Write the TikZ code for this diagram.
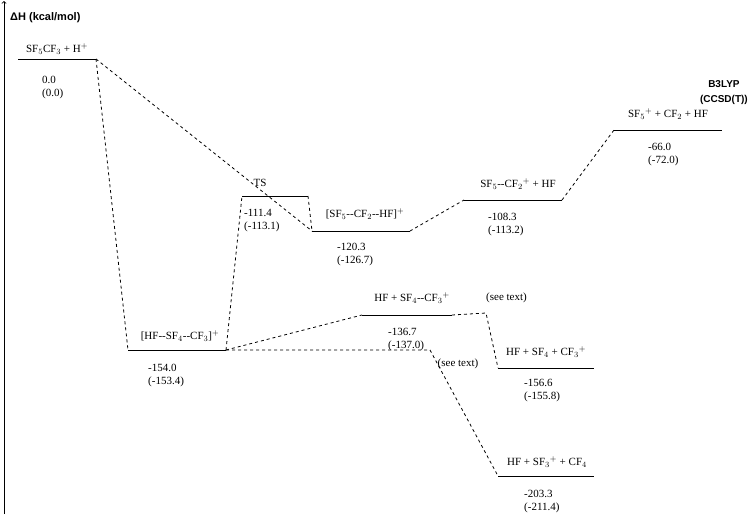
\documentclass[tikz,border=0pt]{standalone}
\usepackage{fontspec}
\setmainfont{Liberation Serif}
\setsansfont{Liberation Sans}
\begin{document}
\begin{tikzpicture}[x=1pt,y=-1pt,font=\fontsize{11}{13}\selectfont,
    level/.style={thick},
    link/.style={dashed,thick},
    lbl/.style={inner sep=0pt},
    val/.style={inner sep=0pt,anchor=west,align=left}]
    \useasboundingbox (0,0) rectangle (754,514);
    % axis
    \draw [->, thick] (4,514) -- (4,1);
    \node [lbl,anchor=west,font=\sffamily\bfseries\fontsize{11}{13}\selectfont] (ax) at (10,18) {ΔH (kcal/mol)};
    \node [lbl,anchor=east,align=center,font=\sffamily\bfseries\fontsize{10}{15}\selectfont] (meth) at (748,93) {B3LYP\\(CCSD(T))};

    % levels
    \foreach \n/\xa/\xb/\y in {r/18/96/59, ts/242/308/196, c1/312/410/231, c2/464/562/200,
        p1/614/722/130, i1/128/226/350, c3/362/452/315, p2/498/594/368, p3/498/594/476} {
        \coordinate (\n a) at (\xa,\y);
        \coordinate (\n b) at (\xb,\y);
        \draw [level] (\n a) -- (\n b);
    }

    % labels
    \node [lbl] (lr) at (57,49) {SF$_5$CF$_3$ + H$^+$};
    \node [val] (vr) at (42,88) {0.0\\(0.0)};
    \node [lbl] (lts) at (260,183) {TS};
    \node [val] (vts) at (244,221) {-111.4\\(-113.1)};
    \node [lbl] (lc1) at (365,214) {[SF$_5${-}{-}CF$_2${-}{-}HF]$^+$};
    \node [val] (vc1) at (337,255) {-120.3\\(-126.7)};
    \node [lbl] (lc2) at (518,184) {SF$_5${-}{-}CF$_2$$^+$ + HF};
    \node [val] (vc2) at (488,225) {-108.3\\(-113.2)};
    \node [lbl] (lp1) at (668,114) {SF$_5$$^+$ + CF$_2$ + HF};
    \node [val] (vp1) at (648,155) {-66.0\\(-72.0)};
    \node [lbl] (li1) at (180,336) {[HF{-}{-}SF$_4${-}{-}CF$_3$]$^+$};
    \node [val] (vi1) at (148,376) {-154.0\\(-153.4)};
    \node [lbl] (lc3) at (412,298) {HF + SF$_4${-}{-}CF$_3$$^+$};
    \node [lbl,anchor=west] (st1) at (486,298) {(see text)};
    \node [val] (vc3) at (388,340) {-136.7\\(-137.0)};
    \node [lbl] (st2) at (458,364) {(see text)};
    \node [lbl] (lp2) at (546,352) {HF + SF$_4$ + CF$_3$$^+$};
    \node [val] (vp2) at (524,391) {-156.6\\(-155.8)};
    \node [lbl] (lp3) at (547,462) {HF + SF$_3$$^+$ + CF$_4$};
    \node [val] (vp3) at (524,502) {-203.3\\(-211.4)};

    % connectors
    \coordinate (k1) at (486,313);
    \coordinate (k2) at (430,350);
    \draw [link] (rb) -- (i1a);
    \draw [link] (rb) -- (c1a);
    \draw [link] (i1b) -- (tsa);
    \draw [link] (tsb) -- (c1a);
    \draw [link] (c1b) -- (c2a);
    \draw [link] (c2b) -- (p1a);
    \draw [link] (i1b) -- (c3a);
    \draw [link] (c3b) -- (k1) -- (p2a);
    \draw [link] (i1b) -- (k2) -- (p3a);
\end{tikzpicture}
\end{document}
